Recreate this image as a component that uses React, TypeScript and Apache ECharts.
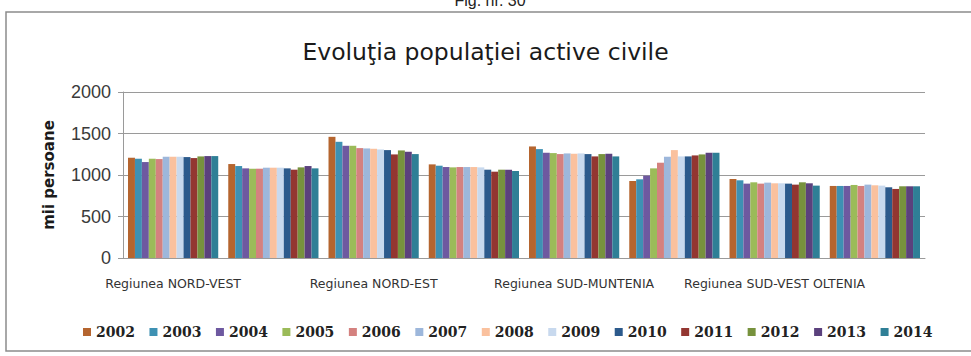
import React, { useEffect, useRef } from "react";
import * as echarts from "echarts";

const regions = [
  "Regiunea NORD-VEST",
  "Regiunea CENTRU",
  "Regiunea NORD-EST",
  "Regiunea SUD-EST",
  "Regiunea SUD-MUNTENIA",
  "Regiunea BUCUREŞTI-ILFOV",
  "Regiunea SUD-VEST OLTENIA",
  "Regiunea VEST",
];

const years = ["2002", "2003", "2004", "2005", "2006", "2007", "2008", "2009", "2010", "2011", "2012", "2013", "2014"];

// values per region, one per year (mii persoane)
const nordVest = [1208, 1196, 1156, 1196, 1192, 1220, 1220, 1220, 1216, 1204, 1224, 1228, 1228];
const centru = [1132, 1108, 1080, 1076, 1076, 1088, 1088, 1088, 1080, 1064, 1092, 1108, 1080];
const nordEst = [1460, 1400, 1352, 1352, 1324, 1320, 1316, 1308, 1300, 1248, 1296, 1280, 1252];
const sudEst = [1128, 1112, 1096, 1092, 1096, 1096, 1096, 1092, 1064, 1040, 1064, 1064, 1048];
const sudMuntenia = [1344, 1312, 1268, 1264, 1252, 1260, 1256, 1260, 1252, 1224, 1252, 1256, 1224];
const bucurestiIlfov = [928, 948, 992, 1080, 1148, 1220, 1300, 1224, 1224, 1236, 1248, 1268, 1268];
const sudVestOltenia = [952, 936, 896, 912, 896, 908, 900, 900, 896, 884, 912, 900, 872];
const vest = [868, 868, 868, 880, 868, 884, 876, 872, 852, 832, 864, 864, 864];

const regionValues = [nordVest, centru, nordEst, sudEst, sudMuntenia, bucurestiIlfov, sudVestOltenia, vest];

const yearColors = [
  "#B5652F",
  "#3E91B3",
  "#6E59A0",
  "#9BBB59",
  "#D4817F",
  "#9DB7DB",
  "#FAC19E",
  "#C8D9EE",
  "#2C5A8C",
  "#933631",
  "#77923D",
  "#5B417D",
  "#2F7F96",
];

const yTicks = { min: 0, max: 2000, interval: 500 };

export default function App() {
  const ref = useRef<HTMLDivElement>(null);

  useEffect(() => {
    if (!ref.current) return;
    const chart = echarts.init(ref.current, undefined, { renderer: "svg" });
    const series = years.map((y, i) => ({
      name: y,
      type: "bar" as const,
      data: regionValues.map((r) => r[i]),
      itemStyle: { color: yearColors[i] },
      barGap: "0%",
      barCategoryGap: "10%",
    }));
    chart.setOption({
      animation: false,
      backgroundColor: "#ffffff",
      title: {
        text: "Evoluţia populaţiei active civile",
        left: "center",
        top: 35,
        textStyle: {
          fontFamily: "DejaVu Sans",
          fontSize: 23.5,
          fontWeight: "normal",
          color: "#1a1a1a",
        },
      },
      graphic: [
        {
          type: "rect",
          shape: { x: 6, y: 12, width: 990, height: 339 },
          style: { fill: "none", stroke: "#8c8c8c", lineWidth: 1.5 },
          silent: true,
          z: -1,
        },
        {
          type: "text",
          x: 490,
          y: 8,
          style: {
            text: "Fig. nr. 30",
            fontFamily: "Liberation Sans",
            fontSize: 16,
            fill: "#222",
            textAlign: "center",
            textVerticalAlign: "bottom",
          },
        },
      ],
      legend: {
        data: years,
        left: 78,
        top: 320,
        itemWidth: 8,
        itemHeight: 8,
        itemGap: 14.5,
        icon: "rect",
        textStyle: {
          fontFamily: "DejaVu Serif",
          fontWeight: "bold",
          fontSize: 14,
          color: "#222",
        },
      },
      grid: { left: 123, right: 46, top: 92, bottom: 98 },
      xAxis: {
        type: "category",
        data: regions,
        axisLine: { lineStyle: { color: "#9a9a9a" } },
        axisTick: { show: false },
        axisLabel: {
          interval: 1,
          margin: 19,
          fontFamily: "DejaVu Sans",
          fontSize: 12.5,
          color: "#333",
        },
      },
      yAxis: {
        type: "value",
        min: yTicks.min,
        max: yTicks.max,
        interval: yTicks.interval,
        name: "mii persoane",
        nameLocation: "middle",
        nameGap: 67,
        nameTextStyle: {
          fontFamily: "DejaVu Sans",
          fontWeight: "bold",
          fontSize: 15,
          color: "#1a1a1a",
        },
        axisLine: { show: true, lineStyle: { color: "#9a9a9a" } },
        axisTick: { show: true, length: 5, lineStyle: { color: "#9a9a9a" } },
        splitLine: { lineStyle: { color: "#9a9a9a" } },
        axisLabel: {
          margin: 12,
          formatter: (v: number) => String(v),
          fontFamily: "Liberation Sans",
          fontSize: 18,
          color: "#3a3a3a",
        },
      },
      series,
    });
    return () => chart.dispose();
  }, []);

  return (
    <div
      ref={ref}
      style={{ position: "fixed", left: 0, top: 0, width: 971, height: 356 }}
    />
  );
}
